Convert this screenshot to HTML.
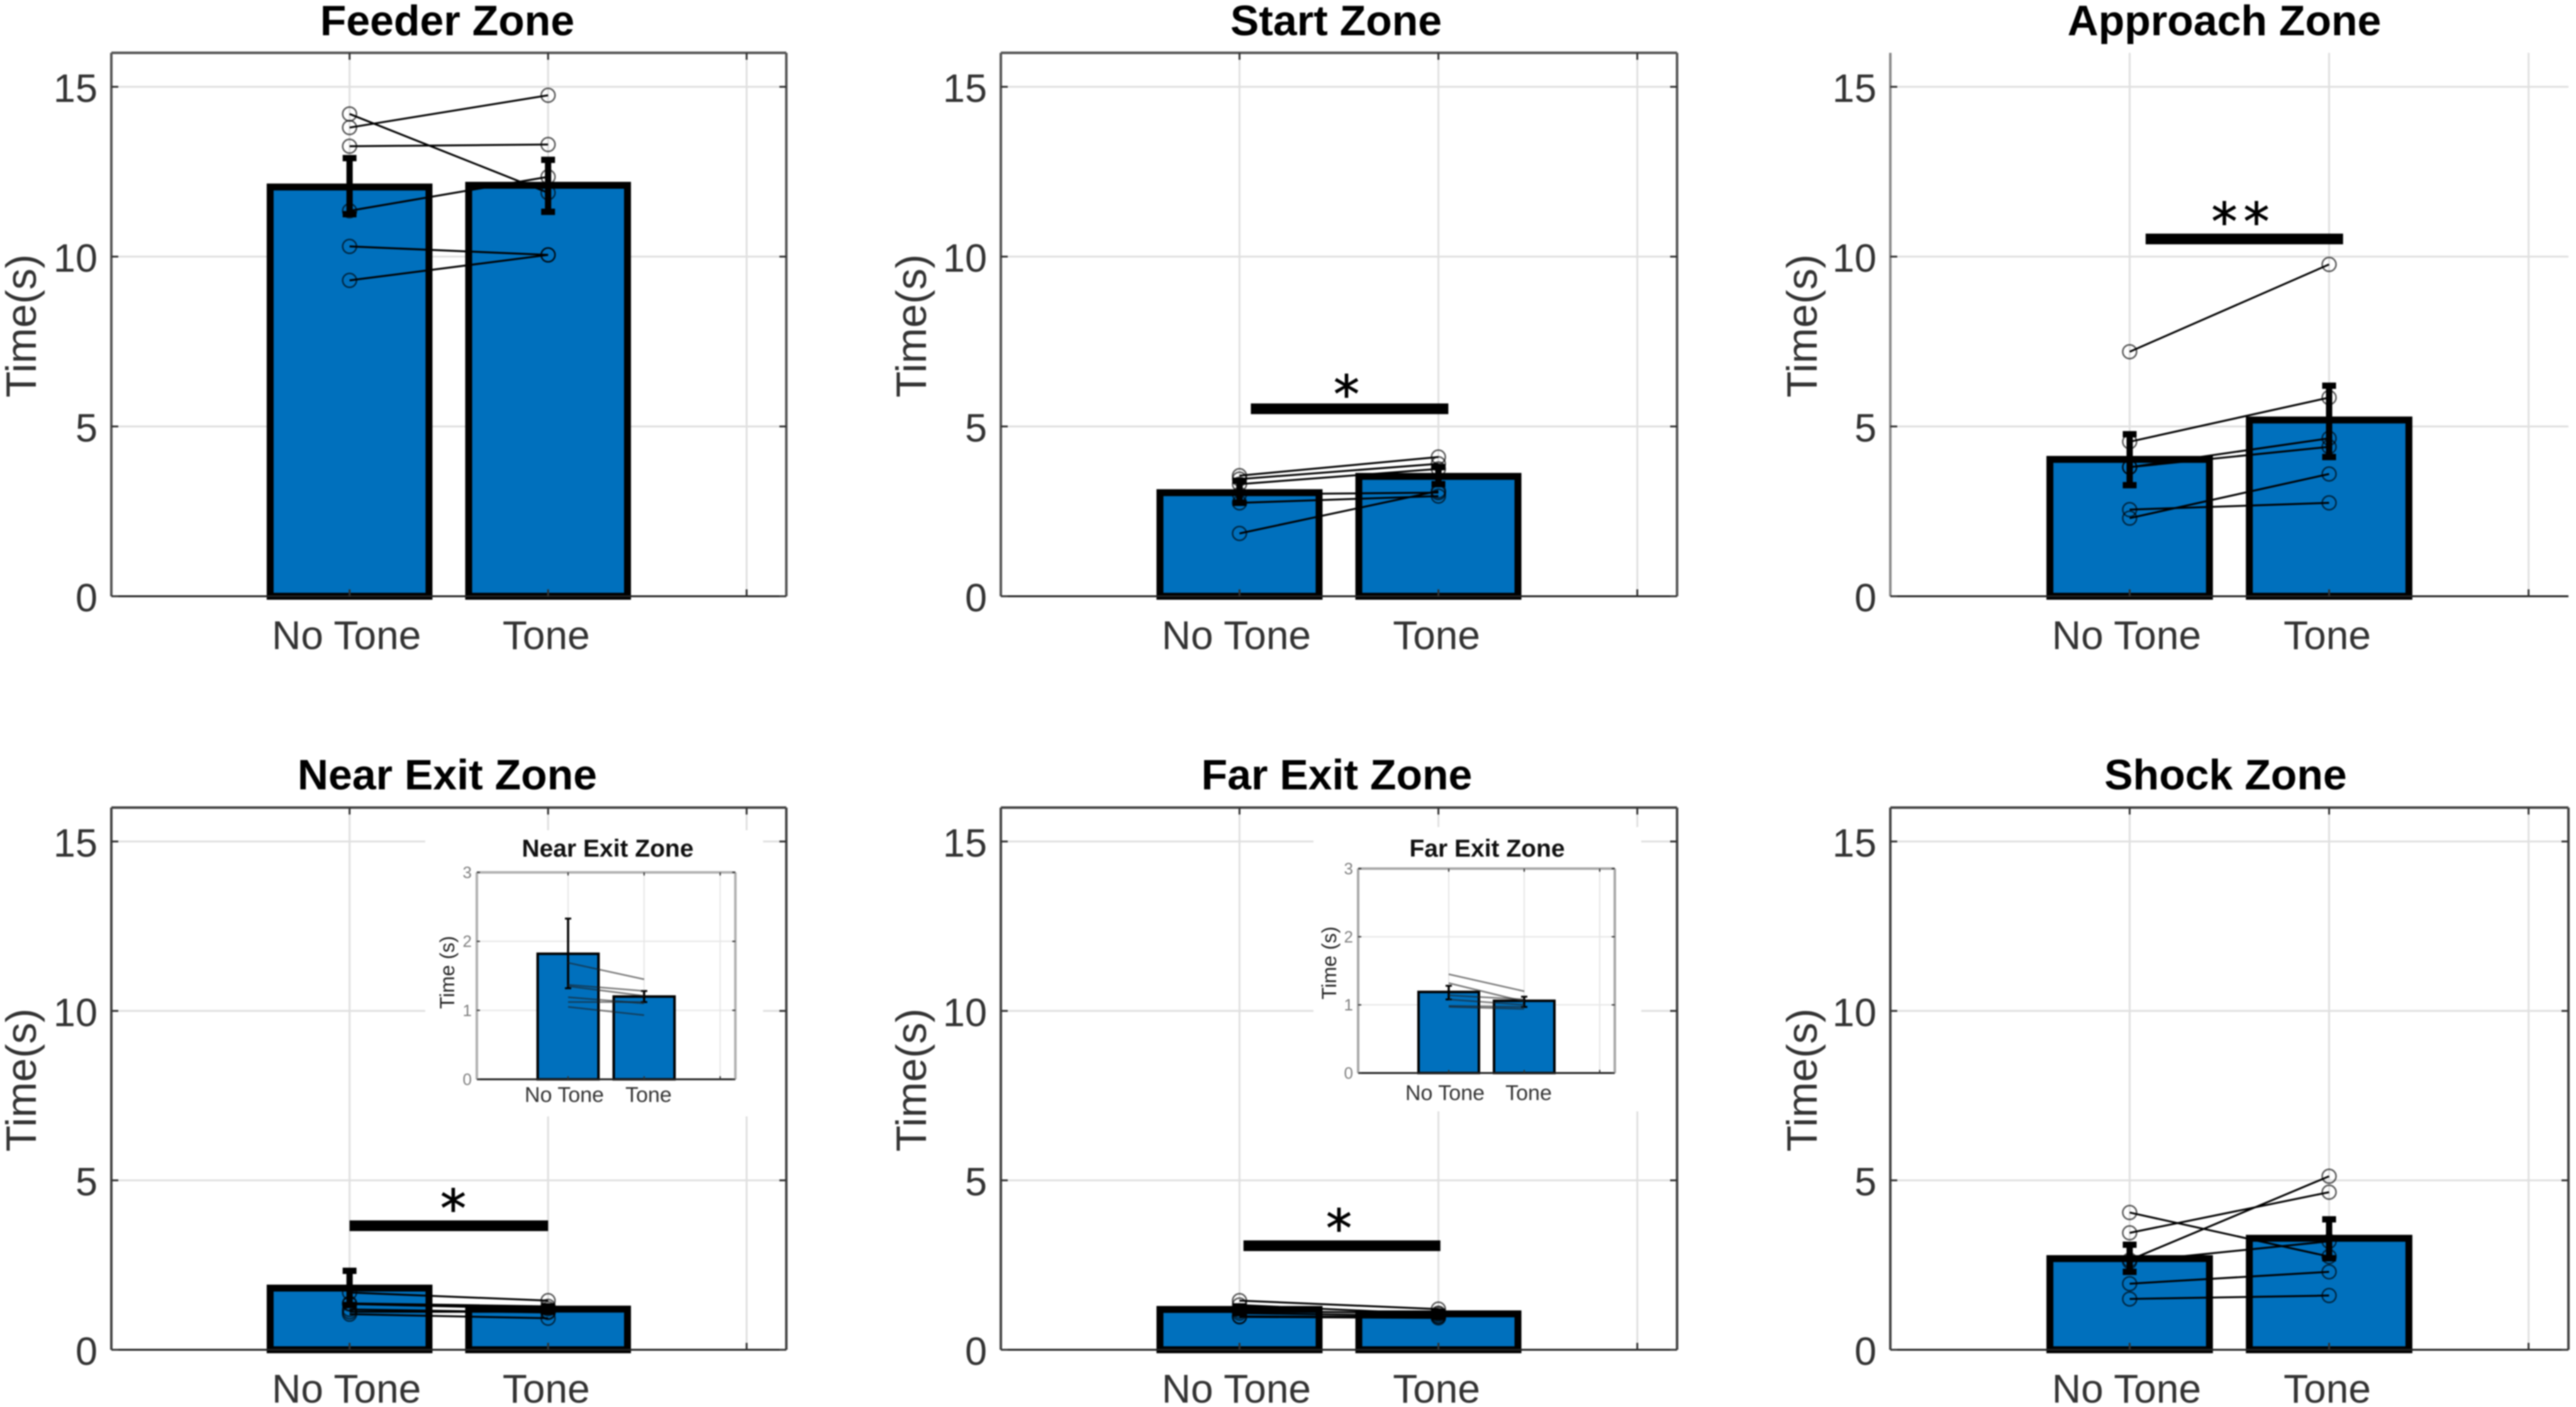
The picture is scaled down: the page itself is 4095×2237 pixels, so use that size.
<!DOCTYPE html>
<html lang="en">
<head>
<meta charset="utf-8">
<title>Time spent per zone: No Tone vs Tone</title>
<style>
  html, body { margin: 0; padding: 0; background: #fff; }
  #figure { display: block; width: 4095px; height: 2237px; filter: blur(1px); font-family: "Liberation Sans", sans-serif; }
  .title { font-weight: 700; font-size: 68px; fill: #000; text-anchor: middle; }
  .ylabel { font-size: 68px; fill: #333; text-anchor: middle; }
  .inset-title { font-weight: 700; font-size: 39px; fill: #111; text-anchor: middle; }
  .inset-ylabel { font-size: 32px; fill: #222; text-anchor: middle; }
</style>
</head>
<body>
<svg id="figure" xmlns="http://www.w3.org/2000/svg" width="4095" height="2237" viewBox="0 0 4095 2237">
  <rect x="0" y="0" width="4095" height="2237" fill="#fff"/>
  <g id="plots"></g>

  <text class="title" x="711" y="56">Feeder Zone</text>
  <text class="title" x="2124" y="56">Start Zone</text>
  <text class="title" x="3536" y="56">Approach Zone</text>
  <text class="title" x="711" y="1255">Near Exit Zone</text>
  <text class="title" x="2125" y="1255">Far Exit Zone</text>
  <text class="title" x="3538" y="1255">Shock Zone</text>

  <text class="ylabel" transform="translate(57 518) rotate(-90)">Time(s)</text>
  <text class="ylabel" transform="translate(1472 518) rotate(-90)">Time(s)</text>
  <text class="ylabel" transform="translate(2888 518) rotate(-90)">Time(s)</text>
  <text class="ylabel" transform="translate(57 1717) rotate(-90)">Time(s)</text>
  <text class="ylabel" transform="translate(1472 1717) rotate(-90)">Time(s)</text>
  <text class="ylabel" transform="translate(2888 1717) rotate(-90)">Time(s)</text>

  <g id="insets"></g>
  <g id="inset-text">
    <text class="inset-title" x="966" y="1362">Near Exit Zone</text>
    <text class="inset-ylabel" transform="translate(722 1546) rotate(-90)">Time (s)</text>
    <text class="inset-title" x="2364" y="1362">Far Exit Zone</text>
    <text class="inset-ylabel" transform="translate(2124 1531) rotate(-90)">Time (s)</text>
  </g>
</svg>

<script>
// ---------- chart data ----------
const categories = ['No Tone', 'Tone'];
const xTickValues = [1, 2, 3];
const yTickValues = [0, 5, 10, 15];
const yTickLabels = ['0', '5', '10', '15'];
const insetYTickValues = [0, 1, 2, 3];
const insetYTickLabels = ['0', '1', '2', '3'];

const feederMeans = [12.05, 12.1];
const feederErrLow = [11.25, 11.32];
const feederErrHigh = [12.9, 12.85];
const feederNoTone = [14.2, 13.8, 13.25, 11.35, 10.3, 9.3];
const feederTone = [11.88, 14.75, 13.3, 12.35, 10.05, 10.05];

const startMeans = [3.05, 3.53];
const startErrLow = [2.75, 3.3];
const startErrHigh = [3.4, 3.8];
const startNoTone = [3.55, 3.45, 3.3, 3.0, 2.75, 1.85];
const startTone = [4.1, 3.9, 3.75, 3.05, 2.95, 3.1];
const startSigSpan = [1.057, 2.05];
const startSigLevel = 5.52;
const startStarPos = [1.538, 6.18];

const approachMeans = [4.03, 5.19];
const approachErrLow = [3.27, 4.1];
const approachErrHigh = [4.77, 6.2];
const approachNoTone = [7.2, 4.55, 3.8, 3.8, 2.3, 2.55];
const approachTone = [9.77, 5.85, 4.65, 4.4, 3.6, 2.75];
const approachSigSpan = [1.08, 2.07];
const approachSigLevel = 10.52;
const approachStarPos = [1.571, 11.26];

const nearExitMeans = [1.82, 1.2];
const nearExitErrLow = [1.32, 1.12];
const nearExitErrHigh = [2.33, 1.28];
const nearExitNoTone = [1.69, 1.37, 1.35, 1.19, 1.12, 1.05];
const nearExitTone = [1.45, 1.28, 1.21, 1.1, 1.12, 0.93];
const nearExitSigSpan = [1.0, 2.0];
const nearExitSigLevel = 3.66;
const nearExitStarPos = [1.522, 4.4];

const farExitMeans = [1.19, 1.06];
const farExitErrLow = [1.08, 0.97];
const farExitErrHigh = [1.28, 1.12];
const farExitNoTone = [1.45, 1.32, 1.14, 1.08, 0.985, 0.97];
const farExitTone = [1.2, 1.05, 1.08, 1.0, 0.97, 0.94];
const farExitSigSpan = [1.02, 2.01];
const farExitSigLevel = 3.07;
const farExitStarPos = [1.5, 3.81];

const shockMeans = [2.69, 3.29];
const shockErrLow = [2.3, 2.7];
const shockErrHigh = [3.1, 3.85];
const shockNoTone = [4.05, 3.45, 2.65, 2.6, 1.95, 1.5];
const shockTone = [2.75, 4.65, 5.12, 3.2, 2.3, 1.6];

const xLimits = [-0.2, 3.2];
const yLimits = [0, 16];
const insetYLimits = [0, 3];
const barHalfWidth = 0.4;

// ---------- layout and style ----------
const mainStyle = {
  barStroke: 11, errStroke: 10, capHalf: 11, capStroke: 10, lineStroke: 3, lineColor: '#000',
  markerR: 11, markerStroke: 2.5, markerColor: 'rgba(0,0,0,0.65)', grid: '#e0e0e0', gridW: 3,
  tickLen: 11, tickW: 3, tickFont: 63, tickFill: '#333', tickGap: 22, tickDy: 24,
  catFont: 64, catFill: '#333', catDx: [-5, -3], catDy: 84, axisW: 3, starFont: 82
};
const insetStyle = {
  barStroke: 4, errStroke: 3.5, capHalf: 5, capStroke: 3, lineStroke: 2.5, lineColor: 'rgba(30,30,30,0.6)',
  markerR: 0, markerStroke: 0, markerColor: '#777', grid: '#e6e6e6', gridW: 2,
  tickLen: 5, tickW: 2, tickFont: 26, tickFill: '#808080', tickGap: 8, tickDy: 9,
  catFont: 34, catFill: '#333', catDx: [-6, 7], catDy: 36, axisW: 3, starFont: 0
};
const farInsetStyle = Object.assign({}, insetStyle, { catDy: 43 });

const panels = [
  { key: 'feeder', box: [177, 1250, 84, 948], means: feederMeans, low: feederErrLow, high: feederErrHigh, a: feederNoTone, b: feederTone, border: '#555' },
  { key: 'start', box: [1591, 2666, 84, 948], means: startMeans, low: startErrLow, high: startErrHigh, a: startNoTone, b: startTone, span: startSigSpan, level: startSigLevel, star: startStarPos, stars: '*', border: '#555' },
  { key: 'approach', box: [3005, 4083, 84, 948], means: approachMeans, low: approachErrLow, high: approachErrHigh, a: approachNoTone, b: approachTone, span: approachSigSpan, level: approachSigLevel, star: approachStarPos, stars: '**', border: '#8a8a8a', open: true },
  { key: 'near-exit', box: [177, 1250, 1284, 2146], means: nearExitMeans, low: nearExitErrLow, high: nearExitErrHigh, a: nearExitNoTone, b: nearExitTone, span: nearExitSigSpan, level: nearExitSigLevel, star: nearExitStarPos, stars: '*', border: '#444' },
  { key: 'far-exit', box: [1591, 2666, 1284, 2146], means: farExitMeans, low: farExitErrLow, high: farExitErrHigh, a: farExitNoTone, b: farExitTone, span: farExitSigSpan, level: farExitSigLevel, star: farExitStarPos, stars: '*', border: '#444' },
  { key: 'shock', box: [3005, 4083, 1284, 2146], means: shockMeans, low: shockErrLow, high: shockErrHigh, a: shockNoTone, b: shockTone, border: '#444' }
];

const insets = [
  { key: 'near-exit-inset', mask: [676, 1320, 537, 455], box: [758, 1169, 1387, 1716], means: nearExitMeans, low: nearExitErrLow, high: nearExitErrHigh, a: nearExitNoTone, b: nearExitTone, border: '#b0b0b0', style: insetStyle },
  { key: 'far-exit-inset', mask: [2088, 1315, 521, 452], box: [2159, 2567, 1381, 1706], means: farExitMeans, low: farExitErrLow, high: farExitErrHigh, a: farExitNoTone, b: farExitTone, border: '#a8a8a8', style: farInsetStyle }
];

// ---------- drawing ----------
const SVG_NS = 'http://www.w3.org/2000/svg';

function add(parent, tag, attrs) {
  const node = document.createElementNS(SVG_NS, tag);
  for (const k in attrs) node.setAttribute(k, attrs[k]);
  parent.appendChild(node);
  return node;
}

function xScale(box, v) {
  return box[0] + (v - xLimits[0]) / (xLimits[1] - xLimits[0]) * (box[1] - box[0]);
}

function yScale(box, limits, v) {
  return box[3] - (v - limits[0]) / (limits[1] - limits[0]) * (box[3] - box[2]);
}

function drawPlot(layer, p, st, limits, yTicks, yLabels) {
  const box = p.box;
  const X = v => xScale(box, v);
  const Y = v => yScale(box, limits, v);

  const g = add(layer, 'g', {});
  
  

  // grid
  yTicks.forEach(t => {
    if (t === limits[0] || t === limits[1]) return;
    const el = add(g, 'line', { x1: box[0], x2: box[1], y1: Y(t), y2: Y(t), stroke: st.grid, 'stroke-width': st.gridW });
    
    
  });
  xTickValues.forEach(t => {
    const el = add(g, 'line', { x1: X(t), x2: X(t), y1: box[2], y2: box[3], stroke: st.grid, 'stroke-width': st.gridW });
    
    
  });

  // bars
  p.means.forEach((m, i) => {
    const x0 = X(i + 1 - barHalfWidth);
    const x1 = X(i + 1 + barHalfWidth);
    const el = add(g, 'rect', { x: x0, y: Y(m), width: x1 - x0, height: Y(0) - Y(m), fill: '#0070bd', stroke: '#000', 'stroke-width': st.barStroke });
    
    
  });

  // error bars
  p.means.forEach((m, i) => {
    const cx = X(i + 1);
    const eg = add(g, 'g', { stroke: '#000' });
    
    
    add(eg, 'line', { x1: cx, x2: cx, y1: Y(p.high[i]), y2: Y(p.low[i]), 'stroke-width': st.errStroke });
    add(eg, 'line', { x1: cx - st.capHalf, x2: cx + st.capHalf, y1: Y(p.high[i]), y2: Y(p.high[i]), 'stroke-width': st.capStroke });
    add(eg, 'line', { x1: cx - st.capHalf, x2: cx + st.capHalf, y1: Y(p.low[i]), y2: Y(p.low[i]), 'stroke-width': st.capStroke });
  });

  // paired subject lines and markers
  p.a.forEach((va, i) => {
    const vb = p.b[i];
    const ln = add(g, 'line', { x1: X(1), x2: X(2), y1: Y(va), y2: Y(vb), stroke: st.lineColor, 'stroke-width': st.lineStroke });
    
    
    if (st.markerR > 0) {
      const c1 = add(g, 'circle', { cx: X(1), cy: Y(va), r: st.markerR, fill: 'none', stroke: st.markerColor, 'stroke-width': st.markerStroke });
      
      
      const c2 = add(g, 'circle', { cx: X(2), cy: Y(vb), r: st.markerR, fill: 'none', stroke: st.markerColor, 'stroke-width': st.markerStroke });
      
      
    }
  });

  // axes lines
  const bottom = add(g, 'line', { x1: box[0], x2: box[1], y1: box[3], y2: box[3], stroke: '#222', 'stroke-width': st.axisW });
  
  
  const left = add(g, 'line', { x1: box[0], x2: box[0], y1: box[2], y2: box[3], stroke: p.border, 'stroke-width': st.axisW + 1 });
  
  
  if (!p.open) {
    const top = add(g, 'line', { x1: box[0], x2: box[1], y1: box[2], y2: box[2], stroke: p.border, 'stroke-width': st.axisW + 1 });
    
    
    const right = add(g, 'line', { x1: box[1], x2: box[1], y1: box[2], y2: box[3], stroke: p.border, 'stroke-width': st.axisW + 1 });
    
    
  }

  // x ticks
  xTickValues.forEach(t => {
    const tk = add(g, 'line', { x1: X(t), x2: X(t), y1: box[3], y2: box[3] - st.tickLen, stroke: '#333', 'stroke-width': st.tickW });
    
    
    if (!p.open) {
      const tt = add(g, 'line', { x1: X(t), x2: X(t), y1: box[2], y2: box[2] + st.tickLen, stroke: '#333', 'stroke-width': st.tickW });
      
      
    }
  });
  categories.forEach((c, i) => {
    const tx = add(g, 'text', { x: X(i + 1) + st.catDx[i], y: box[3] + st.catDy, 'font-size': st.catFont, fill: st.catFill, 'text-anchor': 'middle' });
    tx.textContent = c;
    
    
  });

  // y ticks
  yTicks.forEach((t, i) => {
    const tk = add(g, 'line', { x1: box[0], x2: box[0] + st.tickLen, y1: Y(t), y2: Y(t), stroke: '#333', 'stroke-width': st.tickW });
    
    
    if (!p.open) {
      const tr = add(g, 'line', { x1: box[1] - st.tickLen, x2: box[1], y1: Y(t), y2: Y(t), stroke: '#333', 'stroke-width': st.tickW });
      
      
    }
    const tx = add(g, 'text', { x: box[0] - st.tickGap, y: Y(t) + st.tickDy, 'font-size': st.tickFont, fill: st.tickFill, 'text-anchor': 'end' });
    tx.textContent = yLabels[i];
    
    
  });

  // significance bar and stars
  if (p.span) {
    const sig = add(g, 'rect', { x: X(p.span[0]), y: Y(p.level) - 8.5, width: X(p.span[1]) - X(p.span[0]), height: 17, fill: '#000' });
    
    
    const star = add(g, 'text', {
      x: X(p.star[0]), y: Y(p.star[1]) + st.starFont * 0.5, 'font-size': st.starFont,
      'font-family': '"DejaVu Sans", sans-serif', fill: '#000', stroke: '#000', 'stroke-width': 1,
      'text-anchor': 'middle', 'letter-spacing': p.stars.length > 1 ? 10 : 0
    });
    star.textContent = p.stars;
    
    
  }
}

const plotLayer = document.getElementById('plots');
panels.forEach(p => drawPlot(plotLayer, p, mainStyle, yLimits, yTickValues, yTickLabels));

const insetLayer = document.getElementById('insets');
insets.forEach(p => {
  const m = add(insetLayer, 'rect', { x: p.mask[0], y: p.mask[1], width: p.mask[2], height: p.mask[3], fill: '#fff' });
  
  
  drawPlot(insetLayer, p, p.style, insetYLimits, insetYTickValues, insetYTickLabels);
});
</script>
</body>
</html>
